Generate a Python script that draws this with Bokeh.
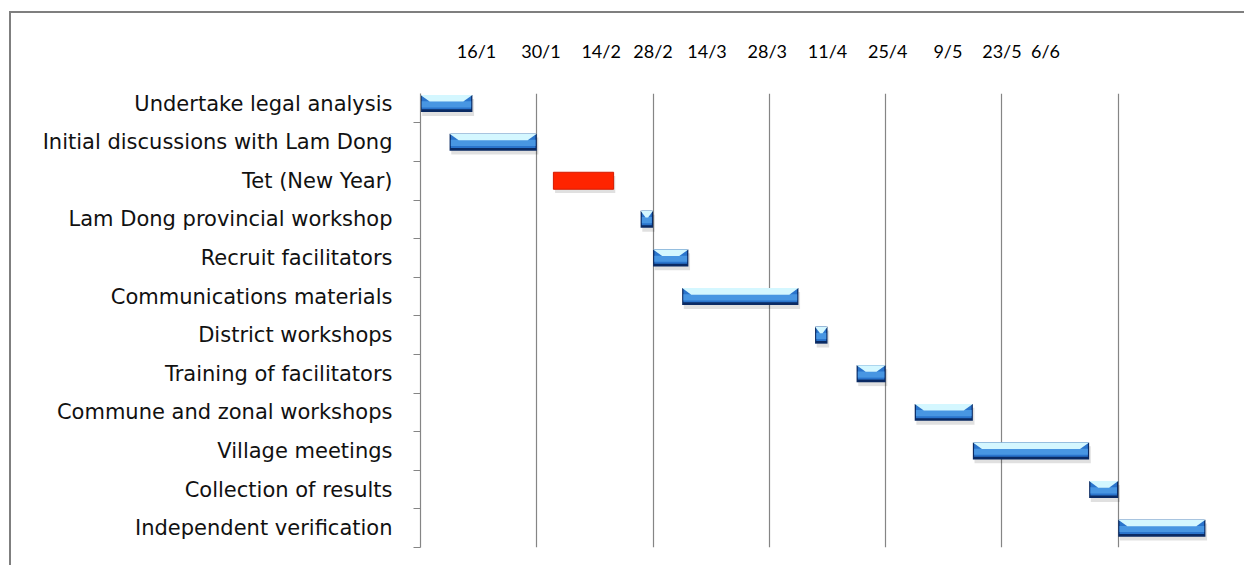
from bokeh.plotting import figure
from bokeh.models import Range1d, FixedTicker, ColumnDataSource
from bokeh.embed import file_html
from bokeh.resources import INLINE

# ---- data (days counted from 2 January) ----
tasks = [
    "Undertake legal analysis",
    "Initial discussions with Lam Dong",
    "Tet (New Year)",
    "Lam Dong provincial workshop",
    "Recruit facilitators",
    "Communications materials",
    "District workshops",
    "Training of facilitators",
    "Commune and zonal workshops",
    "Village meetings",
    "Collection of results",
    "Independent verification",
]
start_day = [0, 7, 32, 53, 56, 63, 95, 105, 119, 133, 161, 168]
end_day = [12.5, 28, 46.5, 56, 64.5, 91, 98, 112, 133, 161, 168, 189]
holiday = [False, False, True, False, False, False, False, False, False, False, False, False]

tick_labels = ["16/1", "30/1", "14/2", "28/2", "14/3", "28/3", "11/4", "25/4", "9/5", "23/5", "6/6"]
tick_days = [13.5, 29, 43.5, 56, 69, 83.5, 98, 112.5, 127, 140, 150.5]
grid_days = [28, 56, 84, 112, 140, 168]

rows = list(range(1, len(tasks) + 1))
hh = 0.22  # half bar height in row units

blue_s, blue_e, blue_r = [], [], []
red_s, red_e, red_r = [], [], []
for s, e, r, h in zip(start_day, end_day, rows, holiday):
    if h:
        red_s.append(s); red_e.append(e); red_r.append(r)
    else:
        blue_s.append(s); blue_e.append(e); blue_r.append(r)

p = figure(width=1235, height=554, output_backend="svg", toolbar_location=None,
           x_range=Range1d(0, 196), y_range=Range1d(12.5, 0.74),
           x_axis_location="above", min_border_left=409, min_border_top=80,
           min_border_right=12, min_border_bottom=20)
p.margin = (11, 0, 0, 9)
p.styles = {"border-top": "2px solid #7f7f7f", "border-left": "2px solid #7f7f7f"}
p.outline_line_color = None
p.background_fill_color = "white"
p.border_fill_color = "white"

# grid
p.ygrid.visible = False
p.xgrid.ticker = FixedTicker(ticks=grid_days)
p.xgrid.grid_line_color = "#858585"
p.xgrid.grid_line_width = 1.2

# top axis
xa = p.xaxis[0]
xa.ticker = FixedTicker(ticks=tick_days)
xa.major_label_overrides = {d: l for d, l in zip(tick_days, tick_labels)}
xa.axis_line_color = None
xa.major_tick_line_color = None
xa.minor_tick_line_color = None
xa.major_label_text_font = "Lato"
xa.major_label_text_font_size = "18px"
xa.major_label_text_color = "#000000"
xa.major_label_standoff = 26

# left axis
ya = p.yaxis[0]
ya.ticker = FixedTicker(ticks=rows, minor_ticks=[r + 0.5 for r in rows])
ya.major_label_overrides = {r: t for r, t in zip(rows, tasks)}
ya.axis_line_color = "#858585"
ya.axis_line_width = 1.2
ya.major_tick_line_color = None
ya.major_tick_out = 0
ya.major_tick_in = 0
ya.minor_tick_line_color = "#858585"
ya.minor_tick_out = 7
ya.minor_tick_in = 0
ya.major_label_text_font = "DejaVu Sans"
ya.major_label_text_font_size = "21px"
ya.major_label_text_color = "#111111"
ya.major_label_standoff = 21

# blue bars (layered bevel look)
bs = ColumnDataSource(dict(
    s=blue_s, e=blue_e,
    top=[r - hh for r in blue_r], bot=[r + hh for r in blue_r],
    sh_l=[s + 0.4 for s in blue_s], sh_r=[e + 0.4 for e in blue_e],
    sh_t=[r - hh + 0.1 for r in blue_r], sh_b=[r + hh + 0.1 for r in blue_r],
    in_l=[s + 0.3 for s in blue_s], in_r=[e - 0.3 for e in blue_e],
    in_b=[r + hh - 0.07 for r in blue_r],
    band_t=[r - hh + 0.16 for r in blue_r], band_b=[r + hh - 0.12 for r in blue_r],
))
p.quad(left="sh_l", right="sh_r", top="sh_t", bottom="sh_b", source=bs,
       fill_color="#000000", fill_alpha=0.12, line_color=None)
p.quad(left="s", right="e", top="top", bottom="bot", source=bs,
       fill_color="#0a2a63", line_color=None)
p.quad(left="in_l", right="in_r", top="top", bottom="in_b", source=bs,
       fill_color="#2a74cc", line_color=None)
p.quad(left="in_l", right="in_r", top="band_t", bottom="band_b", source=bs,
       fill_color="#4896e2", line_color=None)

hx, hy = [], []
for s, e, r in zip(blue_s, blue_e, blue_r):
    b = min(2.2, (e - s) / 2 - 0.3)
    t = r - hh
    m = r - hh + 0.17
    hx.append([s, e, e - b, s + b])
    hy.append([t, t, m, m])
p.patches(xs=hx, ys=hy, fill_color="#d4f7ff", line_color=None)

# holiday bar
rs = ColumnDataSource(dict(
    s=red_s, e=red_e,
    top=[r - hh for r in red_r], bot=[r + hh for r in red_r],
    sh_l=[s + 0.4 for s in red_s], sh_r=[e + 0.4 for e in red_e],
    sh_t=[r - hh + 0.1 for r in red_r], sh_b=[r + hh + 0.1 for r in red_r],
))
p.quad(left="sh_l", right="sh_r", top="sh_t", bottom="sh_b", source=rs,
       fill_color="#000000", fill_alpha=0.12, line_color=None)
p.quad(left="s", right="e", top="top", bottom="bot", source=rs,
       fill_color="#ff2400", line_color="#d41a00", line_width=1)

open("out.html", "w").write(file_html(p, INLINE))
